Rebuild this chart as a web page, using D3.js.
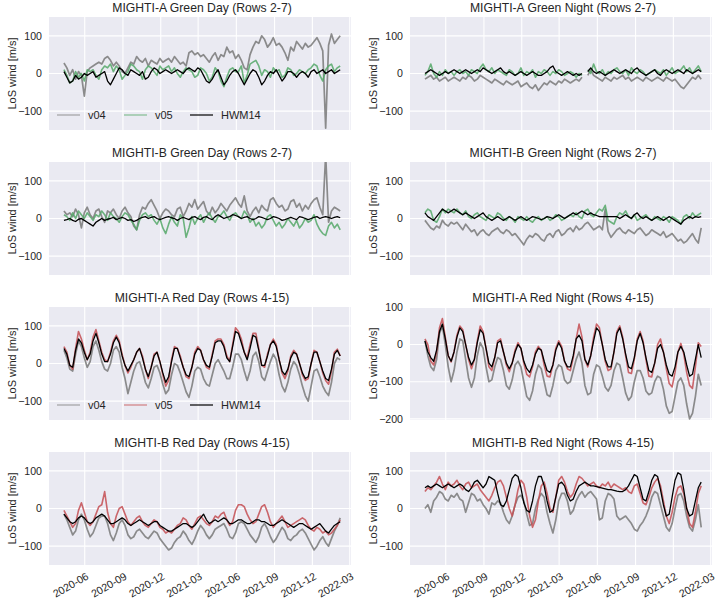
<!DOCTYPE html>
<html><head><meta charset="utf-8">
<script src="https://cdn.jsdelivr.net/npm/d3@7"></script>
<style>
body{margin:0;background:#fff}
svg{display:block}
text{font-family:"Liberation Sans",Arial,sans-serif;fill:#262626}
</style>
</head><body>
<svg id="chart" width="717" height="601"></svg>
<script>
// ---------- DATA ----------
const dates = [
"2020-04-12","2020-04-19","2020-04-26","2020-05-03","2020-05-10","2020-05-17","2020-05-24","2020-05-31",
"2020-06-07","2020-06-14","2020-06-21","2020-06-28","2020-07-05","2020-07-12","2020-07-19","2020-07-26",
"2020-08-02","2020-08-09","2020-08-16","2020-08-23","2020-08-30","2020-09-06","2020-09-13","2020-09-20",
"2020-09-27","2020-10-04","2020-10-11","2020-10-18","2020-10-25","2020-11-01","2020-11-08","2020-11-15",
"2020-11-22","2020-11-29","2020-12-06","2020-12-13","2020-12-20","2020-12-27","2021-01-03","2021-01-10",
"2021-01-17","2021-01-24","2021-01-31","2021-02-07","2021-02-14","2021-02-21","2021-02-28","2021-03-07",
"2021-03-14","2021-03-21","2021-03-28","2021-04-04","2021-04-11","2021-04-18","2021-04-25","2021-05-02",
"2021-05-09","2021-05-16","2021-05-23","2021-05-30","2021-06-06","2021-06-13","2021-06-20","2021-06-27",
"2021-07-04","2021-07-11","2021-07-18","2021-07-25","2021-08-01","2021-08-08","2021-08-15","2021-08-22",
"2021-08-29","2021-09-05","2021-09-12","2021-09-19","2021-09-26","2021-10-03","2021-10-10","2021-10-17",
"2021-10-24","2021-10-31","2021-11-07","2021-11-14","2021-11-21","2021-11-28","2021-12-05","2021-12-12",
"2021-12-19","2021-12-26","2022-01-02","2022-01-09","2022-01-16","2022-01-23","2022-01-30","2022-02-06"];

const xTickLabels = ["2020-06","2020-09","2020-12","2021-03","2021-06","2021-09","2021-12","2022-03"];
const seriesNames = ["v04","v05","HWM14"];

// MIGHTI-A Green Day
const agdV04 = [28,15,-5,10,-15,5, -5,-60,5,15,20,25, 30,25,40,45,35,20, 30,20,5,0,15,30,
  25,45,35,30,40,20, 35,30,25,40,30,35, 40,30,45,35,25,30, 20,55,60,50,55,45,
  50,40,30,45,55,35, 50,45,70,55,60,40, 50,35,15,10,50,70, 85,80,100,90,70,80,
  95,75,80,70,55,35, 70,60,85,75,65,80, 70,75,85,95,80,60, -145,75,105,80,90,100];
const agdV05 = [10,-5,-25,-20,5,-10, 0,-20,10,5,10,-5, -15,10,20,15,25,5, 20,10,-15,-5,5,25,
  20,10,5,-15,10,20, 15,5,-5,20,10,15, 20,5,15,0,-10,5, 15,10,5,-10,-5,15,
  10,0,-20,-10,15,5, -20,-35,-10,10,15,5, 5,20,-25,-5,25,30, 35,20,-5,10,5,-10,
  15,5,10,-10,-5,15, 10,-5,0,10,5,0, 10,15,25,20,-5,-20, 10,20,25,5,15,20];
const agdHWM = [5,-10,-25,-20,-5,-15, -10,0,-5,0,5,-10, -5,0,5,-20,-30,-15, 0,15,10,0,-5,10,
  5,0,-5,5,-15,-10, 5,15,10,0,5,10, 5,0,5,10,5,0, 10,15,10,5,15,10,
  -5,-20,-25,-15,0,10, -10,-30,-20,-5,5,10, 0,-15,-30,-15,0,10, 5,-10,-30,-20,-5,5,
  0,10,-5,-20,-10,5, 5,0,-10,0,5,0, -10,5,10,0,5,10, 0,5,10,0,5,10];

// MIGHTI-B Green Day
const bgdV04 = [20,10,15,5,25,10, -25,15,30,10,0,20, 25,5,-10,20,15,25, 10,0,20,30,15,5,
  -20,-30,10,30,25,40, 50,35,20,0,15,25, 20,10,5,25,30,5, 20,40,30,50,25,35,
  45,20,10,30,15,25, 40,30,20,35,45,55, 40,30,60,20,5,20, 30,15,35,25,20,50,
  55,40,30,35,20,25, 45,50,30,40,20,35, 25,40,50,55,30,10, 170,-10,20,30,25,20];
const bgdV05 = [10,5,-5,15,0,20, 10,0,15,5,-5,10, 5,20,10,-5,15,5, 0,-10,5,15,10,-5,
  -15,-30,-5,10,15,5, 10,-5,-15,0,-25,-40, -15,5,-10,-20,10,0, -50,-25,5,-15,0,10,
  -10,5,15,0,-10,5, 10,20,5,-5,10,15, 5,0,20,10,-10,0, -20,-10,-25,-15,5,10,
  -5,-20,-10,-25,-15,0, -10,-20,-5,-25,-15,0, -10,-5,10,-15,-30,-40, -45,-20,-10,-25,-15,-30];
const bgdHWM = [-5,-3,0,-5,-8,-2, 0,-5,-10,-15,-20,-10, -5,0,-5,-2,0,3, -3,0,3,0,-5,-3,
  -8,-5,0,3,5,0, 3,5,0,-3,0,3, 5,2,0,-5,0,3, 0,-3,3,5,0,-3,
  3,5,0,-3,5,10, 5,0,3,5,10,8, 5,0,3,5,0,-3, 0,5,3,0,-3,0,
  5,3,0,-5,-3,0, 3,0,-3,5,3,0, -3,0,3,5,0,3, 5,3,0,3,5,2];

// MIGHTI-A Red Day
const ardV04 = [35,15,-15,-20,25,60,45,15,-10,5, 45,60,35,5,-15,-20,0,35,45,30,
  -10,-40,-80,-50,-20,0,5,-20,-50,-65, -40,-10,-5,-25,-55,-80,-70,-30,0,-5,
  -25,-50,-75,-90,-60,-20,-10,-15,-40,-55, -60,-30,0,10,-5,-20,-40,-40,-10,25,
  25,10,-20,-45,-20,20,30,5,-35,-45, -20,5,25,10,-30,-60,-75,-50,-15,5,
  -5,-30,-60,-85,-100,-60,-20,-15,-35,-60, -75,-85,-50,0,15,10];
const ardV05 = [45,30,-5,-15,40,85,65,35,10,30, 70,90,60,30,10,5,30,60,75,60,
  25,-5,-25,-10,10,30,40,20,-15,-40, -10,25,30,5,-30,-60,-45,10,45,40,
  20,-10,-35,-40,-10,30,45,35,10,-10, -15,25,60,65,65,50,20,5,50,95,
  85,65,30,15,50,80,80,40,-5,-10, 25,50,65,50,10,-25,-40,-20,20,35,
  25,0,-30,-45,-40,0,35,30,5,-25, -45,-55,-20,30,38,20];
const ardHWM = [40,25,-5,-10,35,65,55,30,10,25, 60,80,55,25,5,5,25,55,70,55,
  20,-5,-20,-5,10,30,40,15,-15,-35, -10,20,30,5,-25,-50,-35,5,40,40,
  15,-10,-30,-35,-10,25,40,35,10,-5, -10,20,55,60,60,45,15,5,45,85,
  80,55,30,10,40,75,70,35,-5,-5, 20,50,60,45,10,-20,-30,-15,15,30,
  25,0,-25,-40,-35,0,30,30,5,-20, -40,-45,-15,25,35,20];

// MIGHTI-B Red Day
const brdV04 = [-15,-30,-50,-70,-60,-30,-15,-30,-55,-75, -65,-45,-25,-20,-20,-40,-70,-85,-65,-40,
  -30,-45,-70,-80,-75,-60,-55,-65,-75,-80, -70,-60,-65,-80,-90,-100,-110,-105,-90,-80,
  -75,-60,-70,-85,-95,-80,-60,-45,-55,-70, -80,-70,-55,-50,-45,-40,-55,-75,-80,-65,
  -40,-35,-40,-55,-70,-80,-90,-75,-50,-40, -55,-75,-90,-80,-65,-50,-60,-80,-85,-75,
  -70,-60,-55,-65,-80,-95,-110,-100,-85,-75, -90,-100,-80,-60,-45,-25];
const brdV05 = [-5,-20,-35,-50,-40,-5,15,-10,-35,-45, -35,-15,5,10,45,-10,-40,-50,-20,0,
  5,-15,-35,-45,-35,-25,-20,-35,-45,-50, -40,-30,-35,-50,-55,-65,-60,-65,-55,-45,
  -40,-25,-30,-45,-55,-40,-25,-20,-30,-40, -45,-35,-20,-25,-15,-10,-30,-45,-35,-5,
  10,10,5,-15,-30,-40,-35,-15,5,10, -10,-35,-50,-40,-30,-20,-35,-50,-45,-40,
  -35,-30,-25,-30,-45,-55,-60,-50,-55,-65, -60,-70,-65,-55,-45,-30];
const brdHWM = [-15,-25,-35,-40,-35,-25,-20,-25,-35,-40, -35,-25,-20,-15,-20,-30,-40,-40,-35,-30,
  -25,-30,-40,-45,-40,-35,-30,-35,-40,-45, -40,-35,-35,-45,-50,-55,-60,-60,-55,-50,
  -45,-40,-40,-45,-50,-45,-35,-25,-15,-30, -40,-35,-30,-35,-30,-25,-30,-40,-40,-35,
  -30,-30,-35,-40,-40,-35,-30,-30,-35,-35, -40,-45,-45,-40,-35,-30,-35,-40,-45,-50,
  -45,-40,-40,-45,-50,-55,-50,-45,-40,-50, -60,-65,-55,-45,-40,-35];

// MIGHTI-A Green Night
const agnV04 = [-15,-10,-5,-15,-10,-20,-15,-10,-20,-15, -10,-15,-20,-10,-15,-5,-10,-20,-15,-5,
  -10,-15,-20,-25,-15,-20,-25,-30,-20,-25, -30,-25,-20,-35,-30,-25,-35,-40,-30,-45,
  -35,-25,-30,-20,-25,-30,-20,-25,-15,-20, -25,-20,-15,-20,-10,null,-5,10,-5,-10,
  -15,-20,-10,-15,-20,-10,-15,-10,-5,-15, -10,-20,-15,-10,-15,-20,-10,-15,-20,-15,
  -10,-15,-20,-10,-15,-20,-15,-25,-35,-40, -30,-20,-10,-15,-5,-15];
const agnV05 = [-5,5,25,0,-10,5,-5,10,0,5, -5,5,10,0,5,-5,10,5,0,15,
  25,10,5,15,0,10,5,0,-5,10, 5,-5,0,15,-5,5,0,10,-10,5,
  0,10,5,-5,5,0,10,5,-5,0, 5,0,-10,0,-5,null,10,0,25,5,
  0,10,-5,5,0,10,15,5,0,10, -5,15,5,0,10,5,-5,0,5,10,
  5,0,10,-5,5,15,0,5,10,20, 5,15,0,10,20,5];
const agnHWM = [0,5,10,5,0,-5,0,5,0,5, 10,5,0,5,10,5,0,5,10,5,
  15,10,5,0,5,10,15,5,0,5, 0,-5,0,5,0,-5,0,5,0,-5,
  -5,0,5,15,20,5,0,-5,0,5, 0,-5,0,-5,0,null,5,15,5,0,
  5,0,-5,0,5,10,5,0,5,10, 5,0,10,15,5,0,-5,0,5,10,
  0,-5,5,10,5,0,5,10,5,0, 10,5,0,5,10,5];

// MIGHTI-B Green Night
const bgnV04 = [-5,-15,-25,-30,-20,-25,-5,-15,-20,-10, -15,-10,-20,-30,-15,-25,-35,-30,-45,-35,
  -30,-40,-45,-35,-30,-25,-35,-40,-30,-35, -45,-40,-50,-60,-70,-55,-45,-50,-40,-45,
  -55,-60,-45,-40,-50,-35,-30,-45,-40,-30, -25,-35,-20,-30,-25,-15,-10,-20,-30,-25,
  -20,-30,25,-35,-50,-40,-30,-25,-35,-40, -30,-35,-40,-30,-25,-35,-45,-40,-30,-35,
  -40,-45,-35,-50,-45,-40,-50,-60,-55,-65, -60,-50,-40,-55,-65,-25];
const bgnV05 = [15,25,20,-5,-10,5,25,15,25,20, 15,25,15,10,20,5,0,10,15,5,
  0,-5,10,5,0,15,10,0,-5,5, 0,-10,5,0,-5,5,-5,-10,0,5,
  -5,0,5,-5,0,10,5,-5,0,5, 10,5,15,5,0,20,25,10,5,15,
  25,20,35,-5,-10,-15,5,15,10,20, 5,0,10,-5,0,5,10,0,-5,5,
  0,-5,5,0,-10,5,0,-5,-15,5, 10,0,15,5,10,15];
const bgnHWM = [15,5,0,-5,5,15,25,20,15,20, 25,20,15,10,15,10,5,0,5,10,
  15,5,0,-5,0,5,0,-5,0,5, 0,-5,0,5,0,-5,0,5,3,0,
  -3,0,5,3,0,5,10,5,0,5, 10,15,10,15,20,15,10,15,10,8,
  5,5,5,5,5,5,5,0,5,10, 5,0,10,15,5,0,5,0,-5,0,
  5,0,-5,0,5,0,-5,-10,-15,-5, 0,5,0,5,3,5];

// MIGHTI-A Red Night
const arnV04 = [10,-30,-60,-70,-40,30,50,0,-60,-100, -70,-20,15,10,-40,-90,-115,-90,-30,5,
  -10,-60,-100,-95,-60,-35,-40,-70,-110,-120, -95,-55,-45,-60,-100,-140,-150,-125,-80,-55,
  -65,-100,-135,-140,-110,-70,-55,-60,-95,-105, -100,-70,-40,-20,-50,-110,-135,-130,-80,-55,
  -60,-85,-115,-125,-110,-70,-50,-55,-90,-130, -150,-140,-100,-70,-70,-90,-125,-135,-130,-100,
  -85,-90,-120,-165,-185,-180,-140,-100,-90,-110, -160,-200,-185,-140,-80,-110];
const arnV05 = [15,0,-45,-55,-20,45,70,20,-30,-47, -20,25,50,40,0,-40,-65,-40,10,50,
  35,-10,-60,-70,-35,10,15,-20,-55,-73, -50,-15,5,-10,-50,-80,-87,-60,-20,-5,
  -15,-55,-85,-87,-55,-10,10,-5,-45,-65, -70,-35,15,55,20,-40,-60,-30,20,55,
  45,0,-45,-70,-65,-20,35,50,20,-30, -75,-78,-40,15,35,10,-40,-85,-87,-50,
  0,15,-20,-65,-105,-114,-75,-20,3,-25, -75,-110,-118,-60,5,-5];
const arnHWM = [10,-20,-35,-45,-15,35,55,15,-30,-45, -20,20,45,35,0,-35,-55,-40,5,40,
  30,-10,-50,-60,-35,5,10,-20,-50,-65, -50,-20,0,-10,-45,-65,-75,-55,-25,-10,
  -15,-45,-70,-75,-55,-15,5,-10,-45,-60, -60,-30,15,25,10,-40,-55,-30,10,45,
  35,0,-40,-60,-60,-20,30,45,15,-25, -60,-65,-35,10,30,5,-35,-70,-75,-50,
  -10,0,-20,-55,-80,-85,-60,-20,-5,-20, -55,-85,-80,-40,0,-35];

// MIGHTI-B Red Night
const brnV04 = [0,10,-10,20,30,45,40,25,20,35, 30,40,25,20,-10,15,40,35,20,25,
  10,0,-15,15,10,20,15,-10,-30,-40, -20,10,30,35,20,-15,-45,-40,0,25,
  40,30,-10,-40,-65,-30,20,40,40,20, -15,-5,20,35,45,30,40,45,35,25,
  -30,-25,20,40,35,25,-20,-30,-25,-20, -30,-40,-55,-60,-45,-35,-20,0,30,45,
  40,10,-20,-50,-60,-40,0,35,40,20, -20,-50,-60,-30,10,-50];
const brnV05 = [45,55,50,60,70,85,65,50,70,60, 65,75,60,50,65,70,55,60,65,50,
  40,30,20,35,55,70,75,60,30,0, -20,10,50,75,65,30,-20,-50,-30,20,
  60,70,40,0,-10,30,75,85,70,45, 30,40,65,85,80,70,60,65,70,60,
  55,65,60,70,55,65,60,55,50,55, 45,40,60,65,40,15,10,30,55,70,
  80,60,20,-20,-40,-10,30,55,60,40, 0,-40,-50,-10,40,60];
const brnHWM = [55,60,55,60,65,60,55,60,65,60, 55,60,65,60,50,45,55,70,75,65,
  55,65,85,80,75,40,10,5,20,50, 80,90,85,55,15,-5,-10,20,60,85,
  85,60,20,-10,-5,30,65,70,60,35, 20,25,45,60,65,70,65,60,60,58,
  56,54,52,50,50,48,46,45,45,50, 60,75,90,85,55,25,20,45,75,90,
  85,50,10,-20,-15,30,75,95,90,50, 0,-20,-15,20,55,70];

// ---------- LAYOUT / STYLE ----------
const colX = [49, 410], rowY = [17, 162, 307, 452], PW = 302, PH = 113;
const greenC = "#55A868", redC = "#C44E52", grayC = "#808080", blackC = "#000000";
const stdDomain = [-150, 150], stdTicks = [-100, 0, 100];

const panels = [
  {title:"MIGHTI-A Green Day (Rows 2-7)", col:0,row:0, s:[agdV04,agdV05,agdHWM], c:greenC, legend:true},
  {title:"MIGHTI-A Green Night (Rows 2-7)", col:1,row:0, s:[agnV04,agnV05,agnHWM], c:greenC},
  {title:"MIGHTI-B Green Day (Rows 2-7)", col:0,row:1, s:[bgdV04,bgdV05,bgdHWM], c:greenC},
  {title:"MIGHTI-B Green Night (Rows 2-7)", col:1,row:1, s:[bgnV04,bgnV05,bgnHWM], c:greenC},
  {title:"MIGHTI-A Red Day (Rows 4-15)", col:0,row:2, s:[ardV04,ardV05,ardHWM], c:redC, legend:true},
  {title:"MIGHTI-A Red Night (Rows 4-15)", col:1,row:2, s:[arnV04,arnV05,arnHWM], c:redC, dom:[-203,101], ticks:[-200,-100,0,100]},
  {title:"MIGHTI-B Red Day (Rows 4-15)", col:0,row:3, s:[brdV04,brdV05,brdHWM], c:redC, xlabels:true},
  {title:"MIGHTI-B Red Night (Rows 4-15)", col:1,row:3, s:[brnV04,brnV05,brnHWM], c:redC, xlabels:true}
];

const parseDay = d3.timeParse("%Y-%m-%d");
const parseMonth = d3.timeParse("%Y-%m");
const X = dates.map(parseDay);
const xTicks = xTickLabels.map(parseMonth);
const x = d3.scaleTime().domain([parseDay("2020-03-07"), parseDay("2022-03-04")]).range([0, PW]);

const svg = d3.select("#chart");
const defs = svg.append("defs");

panels.forEach((p, pi) => {
  const g = svg.append("g").attr("transform", `translate(${colX[p.col]},${rowY[p.row]})`);
  const y = d3.scaleLinear().domain(p.dom || stdDomain).range([PH, 0]);
  const yt = p.ticks || stdTicks;

  g.append("rect").attr("width", PW).attr("height", PH).attr("fill", "#EAEAF2");
  g.selectAll(".gx").data(xTicks).join("line")
    .attr("x1", d => x(d)).attr("x2", d => x(d)).attr("y1", 0).attr("y2", PH)
    .attr("stroke", "#fff").attr("stroke-width", 1.1);
  g.selectAll(".gy").data(yt).join("line")
    .attr("x1", 0).attr("x2", PW).attr("y1", d => y(d)).attr("y2", d => y(d))
    .attr("stroke", "#fff").attr("stroke-width", 1.1);

  g.selectAll(".yl").data(yt).join("text")
    .attr("x", -7).attr("y", d => y(d)).attr("dy", "0.35em")
    .attr("text-anchor", "end").attr("font-size", 10.6)
    .text(d => d < 0 ? "\u2212" + Math.abs(d) : d);

  g.append("text").attr("transform", `translate(-37,${PH/2}) rotate(-90)`)
    .attr("text-anchor", "middle").attr("dy", "0.35em").attr("font-size", 11)
    .text("LoS wind [m/s]");

  g.append("text").attr("x", PW/2 + 2).attr("y", -5).attr("text-anchor", "middle")
    .attr("font-size", 12.2).text(p.title);

  defs.append("clipPath").attr("id", "clip" + pi).append("rect").attr("width", PW).attr("height", PH);
  const lg = g.append("g").attr("clip-path", `url(#clip${pi})`);
  const colors = [grayC, p.c, blackC];
  const widths = [1.7, 1.6, 1.3];
  const opac = [0.9, 0.85, 1];
  p.s.forEach((vals, si) => {
    const line = d3.line().defined(d => d[1] != null).x(d => x(d[0])).y(d => y(d[1]));
    lg.append("path").datum(X.map((d, i) => [d, vals[i]]))
      .attr("d", line).attr("fill", "none").attr("stroke", colors[si])
      .attr("stroke-width", widths[si]).attr("stroke-opacity", opac[si])
      .attr("stroke-linejoin", "round");
  });

  if (p.legend) {
    const lx = [8, 75, 141];
    seriesNames.forEach((n, i) => {
      const it = g.append("g").attr("transform", `translate(${lx[i]},${98})`);
      it.append("line").attr("x1", 0).attr("x2", 23).attr("stroke", colors[i])
        .attr("stroke-width", 1.2).attr("stroke-opacity", i === 2 ? 1 : 0.7);
      it.append("text").attr("x", 31).attr("dy", "0.35em").attr("font-size", 11).text(n);
    });
  }

  if (p.xlabels) {
    g.selectAll(".xl").data(xTicks).join("text")
      .attr("transform", d => `translate(${x(d) + 1},${PH + 7}) rotate(-30)`)
      .attr("text-anchor", "end").attr("dy", "0.7em").attr("font-size", 10.6)
      .text((d, i) => xTickLabels[i]);
  }
});
</script>
</body></html>
